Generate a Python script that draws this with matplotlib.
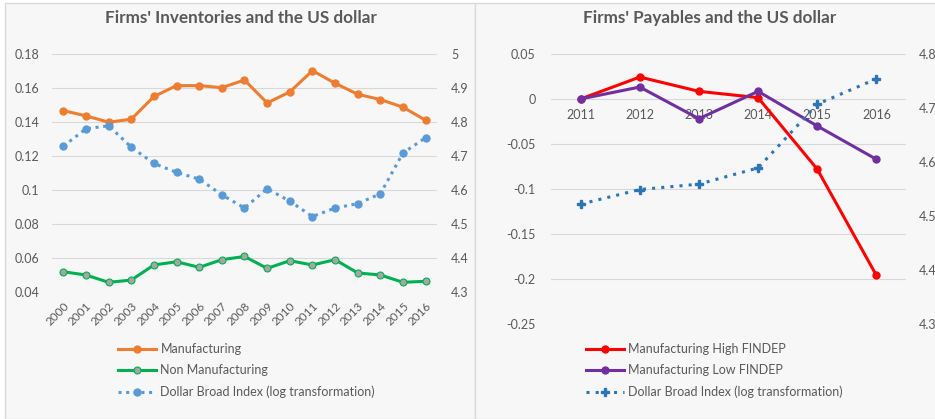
import matplotlib as mpl
mpl.use('Agg')
import matplotlib.pyplot as plt
from matplotlib.patches import Rectangle
import numpy as np

plt.rcParams['font.family'] = ['Lato', 'DejaVu Sans']

# left panel data
years_l = ['2000', '2001', '2002', '2003', '2004', '2005', '2006', '2007', '2008',
           '2009', '2010', '2011', '2012', '2013', '2014', '2015', '2016']
manuf = [0.1467, 0.1436, 0.1399, 0.1416, 0.155, 0.1614, 0.1614, 0.1602, 0.1647,
         0.1512, 0.1577, 0.1702, 0.1628, 0.1563, 0.1532, 0.1487, 0.1410]
non_manuf = [0.0519, 0.0500, 0.0457, 0.0470, 0.0559, 0.0578, 0.0545, 0.0590, 0.0609,
             0.0539, 0.0584, 0.0559, 0.0590, 0.0512, 0.0500, 0.0457, 0.0463]
dollar_l = [4.729, 4.780, 4.789, 4.726, 4.678, 4.652, 4.632, 4.586, 4.547,
            4.604, 4.567, 4.522, 4.547, 4.560, 4.589, 4.709, 4.754]

# right panel data
years_r = ['2011', '2012', '2013', '2014', '2015', '2016']
high_findep = [0.0, 0.0244, 0.0085, 0.0015, -0.078, -0.196]
low_findep = [0.0, 0.0133, -0.0219, 0.0085, -0.030, -0.067]
dollar_r = [4.522, 4.549, 4.559, 4.589, 4.707, 4.754]

W, H = 935, 419
fig = plt.figure(figsize=(W/100, H/100), dpi=100)
fig.patch.set_facecolor('white')

txt = '#595959'
grid = '#d9d9d9'

# panel backgrounds
fig.patches.append(Rectangle((5/W, 0), 470/W, 1-3/H, transform=fig.transFigure,
                             facecolor='#f7f7f7', edgecolor='#d9d9d9', lw=1, zorder=-5))
fig.patches.append(Rectangle((475/W, 0), 470/W, 1-3/H, transform=fig.transFigure,
                             facecolor='#f7f7f7', edgecolor='#d9d9d9', lw=1, zorder=-5))

def style(ax, ax2):
	for a in (ax, ax2):
		a.set_facecolor('none')
		for s in a.spines.values():
			s.set_visible(False)
		a.tick_params(length=0, labelsize=9, labelcolor=txt)
	ax.yaxis.grid(True, color=grid, lw=0.8)
	ax.set_axisbelow(True)

# ---- left panel
ax = fig.add_axes([52/W, 1-292/H, 385/W, 238/H])
ax2 = ax.twinx()
style(ax, ax2)
x = np.arange(len(years_l))
l1, = ax.plot(x, manuf, color='#ED7D31', lw=2.2, marker='o', ms=5, label='Manufacturing')
l2, = ax.plot(x, non_manuf, color='#00B050', lw=2.2, marker='o', ms=5, mfc='#A5A5A5',
              mec='#00B050', mew=0.8, label='Non Manufacturing')
l3, = ax2.plot(x, dollar_l, color='#5B9BD5', lw=2.2, ls=(0, (1, 1.5)), marker='o', ms=5,
               label='Dollar Broad Index (log transformation)')
ax.set_xlim(-0.5, len(years_l)-0.5)
ax.set_ylim(0.04, 0.18)
ax.set_yticks([0.04, 0.06, 0.08, 0.1, 0.12, 0.14, 0.16, 0.18])
ax.set_yticklabels(['0.04', '0.06', '0.08', '0.1', '0.12', '0.14', '0.16', '0.18'])
ax2.set_ylim(4.3, 5.0)
ax2.set_yticks([4.3, 4.4, 4.5, 4.6, 4.7, 4.8, 4.9, 5.0])
ax2.set_yticklabels(['4.3', '4.4', '4.5', '4.6', '4.7', '4.8', '4.9', '5'])
ax.tick_params(axis='y', pad=9)
ax2.tick_params(axis='y', pad=10)
ax.set_xticks(x)
ax.set_xticklabels(years_l, rotation=45, ha='right', rotation_mode='anchor', fontsize=8.5)
ax.tick_params(axis='x', pad=6)
fig.text(241/W, 1-18/H, "Firms' Inventories and the US dollar", ha='center', va='center',
         fontsize=12.3, fontweight='bold', color=txt)
fig.legend(handles=[l1, l2, l3], loc='upper left', bbox_to_anchor=(118/W, 1-343/H),
           frameon=False, fontsize=9, labelcolor=txt, handlelength=3.0, handletextpad=0.4,
           labelspacing=0.75, borderpad=0, borderaxespad=0)

# ---- right panel
bx = fig.add_axes([551/W, 1-324/H, 355/W, 270/H])
bx2 = bx.twinx()
style(bx, bx2)
xr = np.arange(len(years_r))
r1, = bx.plot(xr, high_findep, color='#FF0000', lw=2.2, marker='o', ms=5,
              label='Manufacturing High FINDEP')
r2, = bx.plot(xr, low_findep, color='#7030A0', lw=2.2, marker='o', ms=5,
              label='Manufacturing Low FINDEP')
r3, = bx2.plot(xr, dollar_r, color='#2E75B6', lw=2.2, ls=(0, (1, 2)), marker='P', ms=6,
               label='Dollar Broad Index (log transformation)')
bx.set_xlim(-0.5, len(years_r)-0.5)
bx.set_ylim(-0.25, 0.05)
bx.set_yticks([-0.25, -0.2, -0.15, -0.1, -0.05, 0, 0.05])
bx.set_yticklabels(['-0.25', '-0.2', '-0.15', '-0.1', '-0.05', '0', '0.05'])
bx2.set_ylim(4.3, 4.8)
bx2.set_yticks([4.3, 4.4, 4.5, 4.6, 4.7, 4.8])
bx.tick_params(axis='y', pad=11)
bx2.tick_params(axis='y', pad=9)
bx.spines['bottom'].set_position(('data', 0))
bx.set_xticks(xr)
bx.set_xticklabels(years_r)
bx.tick_params(axis='x', pad=7)
fig.text(710/W, 1-18/H, "Firms' Payables and the US dollar", ha='center', va='center',
         fontsize=12.3, fontweight='bold', color=txt)
fig.legend(handles=[r1, r2, r3], loc='upper left', bbox_to_anchor=(586/W, 1-343/H),
           frameon=False, fontsize=9, labelcolor=txt, handlelength=3.0, handletextpad=0.4,
           labelspacing=0.75, borderpad=0, borderaxespad=0)

fig.savefig('out.png', dpi=100)
